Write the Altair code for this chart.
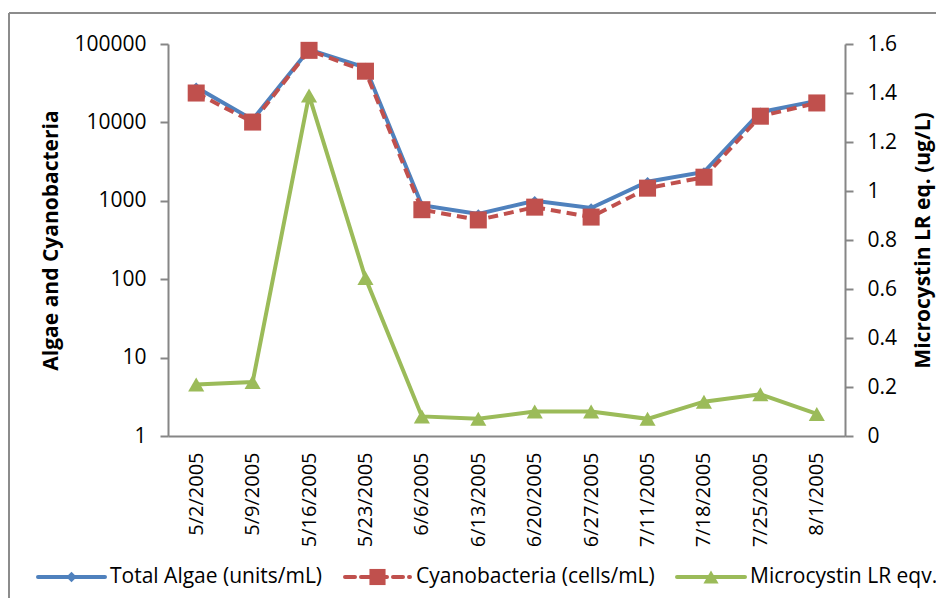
import altair as alt
import pandas as pd

# ---------------- data ----------------
dates = ["5/2/2005", "5/9/2005", "5/16/2005", "5/23/2005", "6/6/2005", "6/13/2005",
         "6/20/2005", "6/27/2005", "7/11/2005", "7/18/2005", "7/25/2005", "8/1/2005"]
total_algae = [28000, 10800, 85000, 50000, 880, 680, 1000, 810, 1750, 2330, 13500, 18800]
cyanobacteria = [23700, 10100, 83000, 45000, 770, 570, 830, 620, 1450, 2000, 12000, 17700]
microcystin = [0.21, 0.22, 1.39, 0.645, 0.08, 0.07, 0.10, 0.10, 0.07, 0.14, 0.17, 0.09]
series_names = ["Total Algae (units/mL)", "Cyanobacteria (cells/mL)", "Microcystin LR eqv."]
left_ticks = [1, 10, 100, 1000, 10000, 100000]
right_ticks = [0, 0.2, 0.4, 0.6, 0.8, 1.0, 1.2, 1.4, 1.6]

# ---------------- style ----------------
BLUE, RED, GREEN = "#4F81BD", "#C0504D", "#9BBB59"
GRAY = "#868686"
FONT = "Open Sans"
W, H = 677, 392
PAD_L, PAD_T = 160, 36
PAD_R = 944 - 16 - PAD_L - W
PAD_B = 606 - 16 - PAD_T - H

df = pd.DataFrame({"date": dates, "algae": total_algae,
                   "cyano": cyanobacteria, "mc": microcystin})

x_enc = alt.X("date:N", sort=dates,
              scale=alt.Scale(type="point", padding=0.5),
              axis=alt.Axis(title=None, labelAngle=-90, ticks=False, labelPadding=16,
                            domainColor=GRAY, domainWidth=2, labelFontSize=20,
                            labelColor="black", labelFont=FONT))

yl_scale = alt.Scale(type="log", domain=[1, 100000], nice=False)
yl_axis = alt.Axis(title="Algae and Cyanobacteria", values=left_ticks, format="d",
                   tickSize=8, tickWidth=2, tickColor=GRAY, domainColor=GRAY, domainWidth=2,
                   labelPadding=14, labelFontSize=21, labelFont=FONT, labelColor="black",
                   titlePadding=12, titleFontSize=21, titleFont=FONT, titleFontWeight="bold",
                   titleColor="black", grid=False)
yr_axis = alt.Axis(title="Microcystin LR eq. (ug/L)", values=right_ticks, format="~g",
                   orient="right", tickSize=8, tickWidth=2, tickColor=GRAY,
                   domainColor=GRAY, domainWidth=2,
                   labelPadding=14, labelFontSize=21, labelFont=FONT, labelColor="black",
                   titlePadding=16, titleFontSize=21, titleFont=FONT, titleFontWeight="bold",
                   titleColor="black", titleAngle=270, titleBaseline="top", grid=False)

base = alt.Chart(df)

blue_line = base.mark_line(color=BLUE, strokeWidth=4).encode(
    x=x_enc, y=alt.Y("algae:Q", scale=yl_scale, axis=yl_axis))
blue_pts = base.mark_point(shape="diamond", filled=True, size=90, color=BLUE, opacity=1).encode(
    x=x_enc, y=alt.Y("algae:Q", scale=yl_scale, axis=yl_axis))
red_line = base.mark_line(color=RED, strokeWidth=4, strokeDash=[10, 6]).encode(
    x=x_enc, y=alt.Y("cyano:Q", scale=yl_scale, axis=yl_axis))
red_pts = base.mark_point(shape="square", filled=True, size=290, color=RED, opacity=1).encode(
    x=x_enc, y=alt.Y("cyano:Q", scale=yl_scale, axis=yl_axis))

yr_scale = alt.Scale(domain=[0, 1.6], nice=False)
green_line = base.mark_line(color=GREEN, strokeWidth=4).encode(
    x=x_enc, y=alt.Y("mc:Q", scale=yr_scale, axis=yr_axis))
green_pts = base.mark_point(shape="triangle-up", filled=True, size=260, color=GREEN, opacity=1).encode(
    x=x_enc, y=alt.Y("mc:Q", scale=yr_scale, axis=yr_axis))

left = alt.layer(blue_line, blue_pts, red_line, red_pts)
right = alt.layer(green_line, green_pts)
main = alt.layer(left, right).resolve_scale(y="independent")

# ---------------- custom legend & outer border ----------------
one = pd.DataFrame({"k": [0]})
decor = []
# outer chart border (top and left edges)
decor.append(alt.Chart(one).mark_rule(color="#8c8c8c", strokeWidth=2).encode(
    x=alt.value(-159), y=alt.value(-31), x2=alt.value(800)))
decor.append(alt.Chart(one).mark_rule(color="#8c8c8c", strokeWidth=2).encode(
    x=alt.value(-159), y=alt.value(-31), y2=alt.value(600)))

leg_y = 533
leg_line = [(-130, -63), (177, 242), (509, 577)]
leg_text_x = [-58, 248, 582]
leg_colors = [BLUE, RED, GREEN]
leg_shapes = ["diamond", "square", "triangle-up"]
leg_sizes = [110, 260, 230]
leg_dash = [[1, 0], [10, 6], [1, 0]]
for i, name in enumerate(series_names):
    x0, x1 = leg_line[i]
    decor.append(alt.Chart(one).mark_rule(color=leg_colors[i], strokeWidth=4,
                                          strokeDash=leg_dash[i], strokeCap="round").encode(
        x=alt.value(x0), x2=alt.value(x1), y=alt.value(leg_y)))
    decor.append(alt.Chart(one).mark_point(shape=leg_shapes[i], filled=True, opacity=1,
                                           color=leg_colors[i], size=leg_sizes[i]).encode(
        x=alt.value((x0 + x1) / 2), y=alt.value(leg_y)))
    decor.append(alt.Chart(pd.DataFrame({"s": [name]})).mark_text(
        align="left", baseline="middle", font=FONT, fontSize=21, color="black").encode(
        x=alt.value(leg_text_x[i]), y=alt.value(leg_y), text="s:N"))

chart = alt.layer(main, *decor).properties(
    width=W, height=H,
    autosize=alt.AutoSizeParams(type="none"),
    padding={"left": PAD_L, "top": PAD_T, "right": PAD_R, "bottom": PAD_B},
    background="white",
).configure_view(stroke=None)

chart.save("out.html", embed_options={"renderer": "svg", "actions": False})
